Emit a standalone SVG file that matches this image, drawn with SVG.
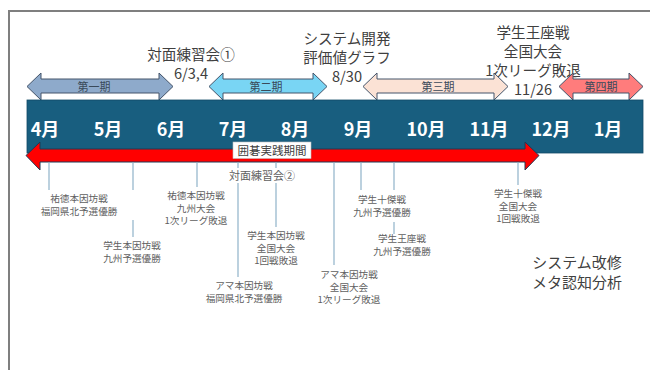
<svg xmlns="http://www.w3.org/2000/svg" width="650" height="370" viewBox="0 0 650 370">
<style>
text{font-family:"Noto Sans CJK JP","Noto Sans",sans-serif}
.big{font-size:14.6px;fill:#404040;text-anchor:middle}
.mon{font-size:18px;font-weight:bold;fill:#ffffff;text-anchor:middle}
.per{font-size:11px;fill:#3a4a5a;text-anchor:middle}
.sm{font-size:9.6px;fill:#606060;text-anchor:middle}
.lab{font-size:11.5px;fill:#404040;text-anchor:middle}
.ln{stroke:#8fb2c9;stroke-width:1.2;fill:none}
.arr{stroke:#44546a;stroke-width:1}
</style>
<rect x="0" y="0" width="650" height="370" fill="#ffffff"/>
<path d="M9,370 V11 H650" fill="none" stroke="#7f7f7f" stroke-width="2"/>

<g id="top-notes">
<text class="big" x="191" y="59.5">対面練習会①<tspan x="191" dy="19">6/3,4</tspan></text>
<text class="big" x="347" y="44">システム開発<tspan x="347" dy="19">評価値グラフ</tspan><tspan x="347" dy="19">8/30</tspan></text>
<text class="big" x="533" y="37.5">学生王座戦<tspan x="533" dy="19">全国大会</tspan><tspan x="533" dy="19">1次リーグ敗退</tspan><tspan x="533" dy="19">11/26</tspan></text>
</g>

<g id="period1">
<path class="arr" fill="#8eaacb" d="M27,86.5 L41,73 L41,79 L159,79 L159,73 L173,86.5 L159,100 L159,93 L41,93 L41,100 Z"/>
<text class="per" x="94" y="91">第一期</text>
</g>
<g id="period2">
<path class="arr" fill="#79d5f4" d="M209,86.5 L223,73 L223,79 L313,79 L313,73 L327,86.5 L313,100 L313,93 L223,93 L223,100 Z"/>
<text class="per" x="266" y="91">第二期</text>
</g>
<g id="period3">
<path class="arr" fill="#fbe2d5" d="M363,86.5 L377,73 L377,79 L494,79 L494,73 L508,86.5 L494,100 L494,93 L377,93 L377,100 Z"/>
<text class="per" x="438" y="91">第三期</text>
</g>
<g id="period4">
<path class="arr" fill="#ff7c7c" d="M559,86.5 L573,73 L573,79 L629,79 L629,73 L643,86.5 L629,100 L629,93 L573,93 L573,100 Z"/>
<text class="per" x="601" y="91">第四期</text>
</g>

<g id="timeline">
<rect x="27" y="100" width="616" height="53" fill="#185e7f" stroke="#124a66" stroke-width="0.8"/>
<text class="mon" x="45" y="136">4月</text>
<text class="mon" x="108" y="136">5月</text>
<text class="mon" x="171" y="136">6月</text>
<text class="mon" x="233" y="136">7月</text>
<text class="mon" x="295" y="136">8月</text>
<text class="mon" x="358" y="136">9月</text>
<text class="mon" x="426" y="136">10月</text>
<text class="mon" x="489" y="136">11月</text>
<text class="mon" x="551" y="136">12月</text>
<text class="mon" x="608" y="136">1月</text>
</g>

<g id="practice-period">
<path d="M26,155.5 L40,142 L40,149 L525,149 L525,142 L539,155.5 L525,170 L525,162 L40,162 L40,170 Z" fill="#ff0000" stroke="#1f3a55" stroke-width="1"/>
<rect x="233" y="142" width="78" height="16.5" fill="#ffffff" stroke="#bfbfbf" stroke-width="0.6"/>
<text class="lab" x="272" y="154.5">囲碁実践期間</text>
</g>

<g id="connectors">
<line class="ln" x1="49" y1="162.5" x2="49" y2="190"/>
<line class="ln" x1="133" y1="162.5" x2="133" y2="190"/>
<line class="ln" x1="133" y1="220" x2="133" y2="237"/>
<line class="ln" x1="197" y1="162.5" x2="197" y2="187"/>
<line class="ln" x1="238" y1="162.5" x2="238" y2="277"/>
<line class="ln" x1="276" y1="162.5" x2="276" y2="227"/>
<line class="ln" x1="334" y1="162.5" x2="334" y2="265"/>
<line class="ln" x1="361" y1="162.5" x2="361" y2="190"/>
<line class="ln" x1="394" y1="162.5" x2="394" y2="190"/>
<line class="ln" x1="394" y1="222" x2="394" y2="234"/>
<line class="ln" x1="518" y1="162.5" x2="518" y2="185"/>
</g>

<g id="practice2">
<rect x="227" y="168" width="71" height="15" fill="#ffffff"/>
<text class="sm" x="262" y="179.5" style="font-size:11px">対面練習会②</text>
</g>

<g id="ev1"><text class="sm" x="79" y="202">祐徳本因坊戦<tspan x="79" dy="12.6">福岡県北予選優勝</tspan></text></g>
<g id="ev2"><text class="sm" x="132" y="249">学生本因坊戦<tspan x="132" dy="12.6">九州予選優勝</tspan></text></g>
<g id="ev3"><text class="sm" x="196" y="199">祐徳本因坊戦<tspan x="196" dy="12.6">九州大会</tspan><tspan x="196" dy="12.6">1次リーグ敗退</tspan></text></g>
<g id="ev4"><text class="sm" x="276" y="239">学生本因坊戦<tspan x="276" dy="12.6">全国大会</tspan><tspan x="276" dy="12.6">1回戦敗退</tspan></text></g>
<g id="ev5"><text class="sm" x="244" y="289">アマ本因坊戦<tspan x="244" dy="12.6">福岡県北予選優勝</tspan></text></g>
<g id="ev6"><text class="sm" x="349" y="278">アマ本因坊戦<tspan x="349" dy="12.6">全国大会</tspan><tspan x="349" dy="12.6">1次リーグ敗退</tspan></text></g>
<g id="ev7"><text class="sm" x="382" y="203">学生十傑戦<tspan x="382" dy="12.6">九州予選優勝</tspan></text></g>
<g id="ev8"><text class="sm" x="402" y="242">学生王座戦<tspan x="402" dy="12.6">九州予選優勝</tspan></text></g>
<g id="ev9"><text class="sm" x="518" y="197">学生十傑戦<tspan x="518" dy="12.6">全国大会</tspan><tspan x="518" dy="12.6">1回戦敗退</tspan></text></g>

<g id="system-note">
<text class="big" x="577" y="268" style="font-size:15px">システム改修<tspan x="577" dy="20">メタ認知分析</tspan></text>
</g>
</svg>
